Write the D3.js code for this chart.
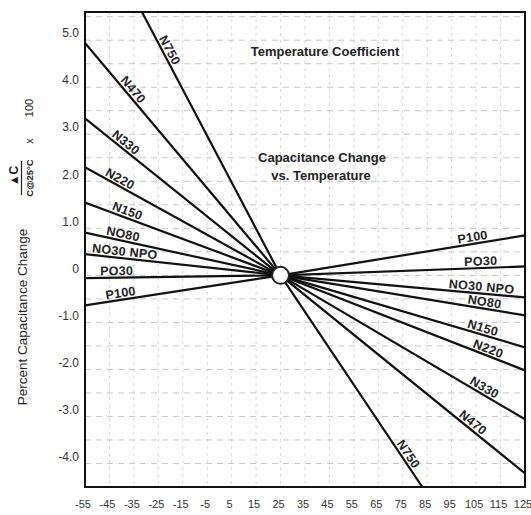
<!DOCTYPE html>
<html><head><meta charset="utf-8">
<script src="https://cdn.jsdelivr.net/npm/d3@7"></script>
<style>body{margin:0;background:#fff;}svg{display:block;font-family:"Liberation Sans",Arial,sans-serif;}</style>
</head><body>
<svg id="chart" width="531" height="515"></svg>
<script>
const xTicks = [-55,-45,-35,-25,-15,-5,5,15,25,35,45,55,65,75,85,95,105,115,125];
const yTicks = [5,4,3,2,1,0,-1,-2,-3,-4];
const yTickLabels = ["5.0","4.0","3.0","2.0","1.0","0","-1.0","-2.0","-3.0","-4.0"];
const series = ["N750","N470","N330","N220","N150","NO80","NO30 NPO","PO30","P100"];
// left end of each line (x temp, y %)
const leftX = [-31.7,-55,-55,-55,-55,-55,-55,-55,-55];
const leftY = [5.6,4.94,3.34,2.30,1.55,0.91,0.45,-0.06,-0.64];
// common pivot at 25 C
const pivot = [25, 0];
// right end of each line
const rightX = [83,125,125,125,125,125,125,125,125];
const rightY = [-4.5,-4.21,-3.06,-2.02,-1.53,-0.85,-0.47,0.19,0.85];
// where the line labels sit (temperature along the line)
const leftLabelX = [-22.8,-37.4,-40,-42,-38.6,-40,-39,-42,-40];
const rightLabelX = [75,102,107,109,107,108,107,107,104];

const svg = d3.select("#chart");
const L = 85, R = 525, T = 12, B = 487;
const x = d3.scaleLinear().domain([-55,125]).range([L,R]);
const y = d3.scaleLinear().domain([-4.5,5.6]).range([B,T]);

// grid
const g = svg.append("g");
g.selectAll(".hg").data(d3.range(-4,5.51,0.5)).join("line")
  .attr("x1",L).attr("x2",R).attr("y1",d=>y(d)).attr("y2",d=>y(d))
  .attr("stroke","#9a9a9a").attr("stroke-width",1).attr("stroke-dasharray","6,5").attr("opacity",0.55);
g.selectAll(".vg").data(xTicks.slice(1,-1)).join("line")
  .attr("y1",T).attr("y2",B).attr("x1",d=>x(d)).attr("x2",d=>x(d))
  .attr("stroke","#bdbdbd").attr("stroke-width",1).attr("stroke-dasharray","3,4").attr("opacity",0.6);

// frame
svg.append("rect").attr("x",L).attr("y",T).attr("width",R-L).attr("height",B-T)
  .attr("fill","none").attr("stroke","#111").attr("stroke-width",2);

// axes labels
svg.append("g").selectAll("text").data(xTicks).join("text")
  .attr("x",d=>x(d)-2).attr("y",508).attr("text-anchor","middle")
  .attr("font-size",11).attr("fill","#333").text(d=>d);
svg.append("g").selectAll("text").data(yTicks).join("text")
  .attr("x",79).attr("y",d=>y(d)-7).attr("dy","0.35em").attr("text-anchor","end")
  .attr("font-size",12).attr("fill","#333").text((d,i)=>yTickLabels[i]);

// lines
const lineGen = d3.line().x(d=>x(d[0])).y(d=>y(d[1]));
svg.append("clipPath").attr("id","pc").append("rect")
  .attr("x",L).attr("y",T).attr("width",R-L).attr("height",B-T);
const lines = series.map((s,i)=>[[leftX[i],leftY[i]],pivot,[rightX[i],rightY[i]]]);
svg.append("g").attr("clip-path","url(#pc)").selectAll("path").data(lines).join("path")
  .attr("d",lineGen).attr("fill","none").attr("stroke","#111").attr("stroke-width",2.2);

// pivot circle
svg.append("circle").attr("cx",x(pivot[0])).attr("cy",y(pivot[1])).attr("r",8.5)
  .attr("fill","#fff").attr("stroke","#222").attr("stroke-width",2);

// line labels
function placeLabel(i, tx, side){
  const p0 = side==="L" ? [x(leftX[i]),y(leftY[i])] : [x(pivot[0]),y(pivot[1])];
  const p1 = side==="L" ? [x(pivot[0]),y(pivot[1])] : [x(rightX[i]),y(rightY[i])];
  const dx = p1[0]-p0[0], dy = p1[1]-p0[1];
  const ang = Math.atan2(dy,dx);
  const px = x(tx);
  const py = p0[1] + (px-p0[0])*dy/dx;
  const off = 7;
  const cx = px + off*Math.sin(ang), cy = py - off*Math.cos(ang);
  svg.append("text").attr("transform",`translate(${cx},${cy}) rotate(${ang*180/Math.PI})`)
    .attr("text-anchor","middle").attr("dy","0.35em")
    .attr("font-size",12.5).attr("font-weight","bold").attr("letter-spacing","0.3")
    .attr("fill","#222").text(series[i]);
}
series.forEach((s,i)=>{ placeLabel(i,leftLabelX[i],"L"); placeLabel(i,rightLabelX[i],"R"); });

// titles
svg.append("text").attr("x",325).attr("y",51).attr("dy","0.35em").attr("text-anchor","middle")
  .attr("font-size",13).attr("font-weight","bold").attr("fill","#222").text("Temperature Coefficient");
svg.append("text").attr("x",322).attr("y",157).attr("dy","0.35em").attr("text-anchor","middle")
  .attr("font-size",13).attr("font-weight","bold").attr("fill","#222").text("Capacitance Change");
svg.append("text").attr("x",321).attr("y",175).attr("dy","0.35em").attr("text-anchor","middle")
  .attr("font-size",13).attr("font-weight","bold").attr("fill","#222").text("vs. Temperature");

// y axis title
svg.append("text").attr("transform","translate(22,317) rotate(-90)").attr("dy","0.35em")
  .attr("text-anchor","middle").attr("font-size",13.5).attr("fill","#222").text("Percent Capacitance Change");
svg.append("text").attr("transform","translate(13.5,176) rotate(-90)").attr("dy","0.35em")
  .attr("text-anchor","middle").attr("font-size",12).attr("font-weight","bold").attr("fill","#222").text("▲C");
svg.append("line").attr("x1",21.5).attr("x2",21.5).attr("y1",161).attr("y2",195)
  .attr("stroke","#222").attr("stroke-width",1.2);
svg.append("text").attr("transform","translate(29.5,178) rotate(-90)").attr("dy","0.35em")
  .attr("text-anchor","middle").attr("font-size",9.5).attr("font-weight","bold").attr("fill","#222").text("C@25°C");
svg.append("text").attr("transform","translate(29,141) rotate(-90)").attr("dy","0.35em")
  .attr("text-anchor","middle").attr("font-size",11).attr("fill","#222").text("x");
svg.append("text").attr("transform","translate(29,108) rotate(-90)").attr("dy","0.35em")
  .attr("text-anchor","middle").attr("font-size",11).attr("fill","#222").text("100");
</script>
</body></html>
